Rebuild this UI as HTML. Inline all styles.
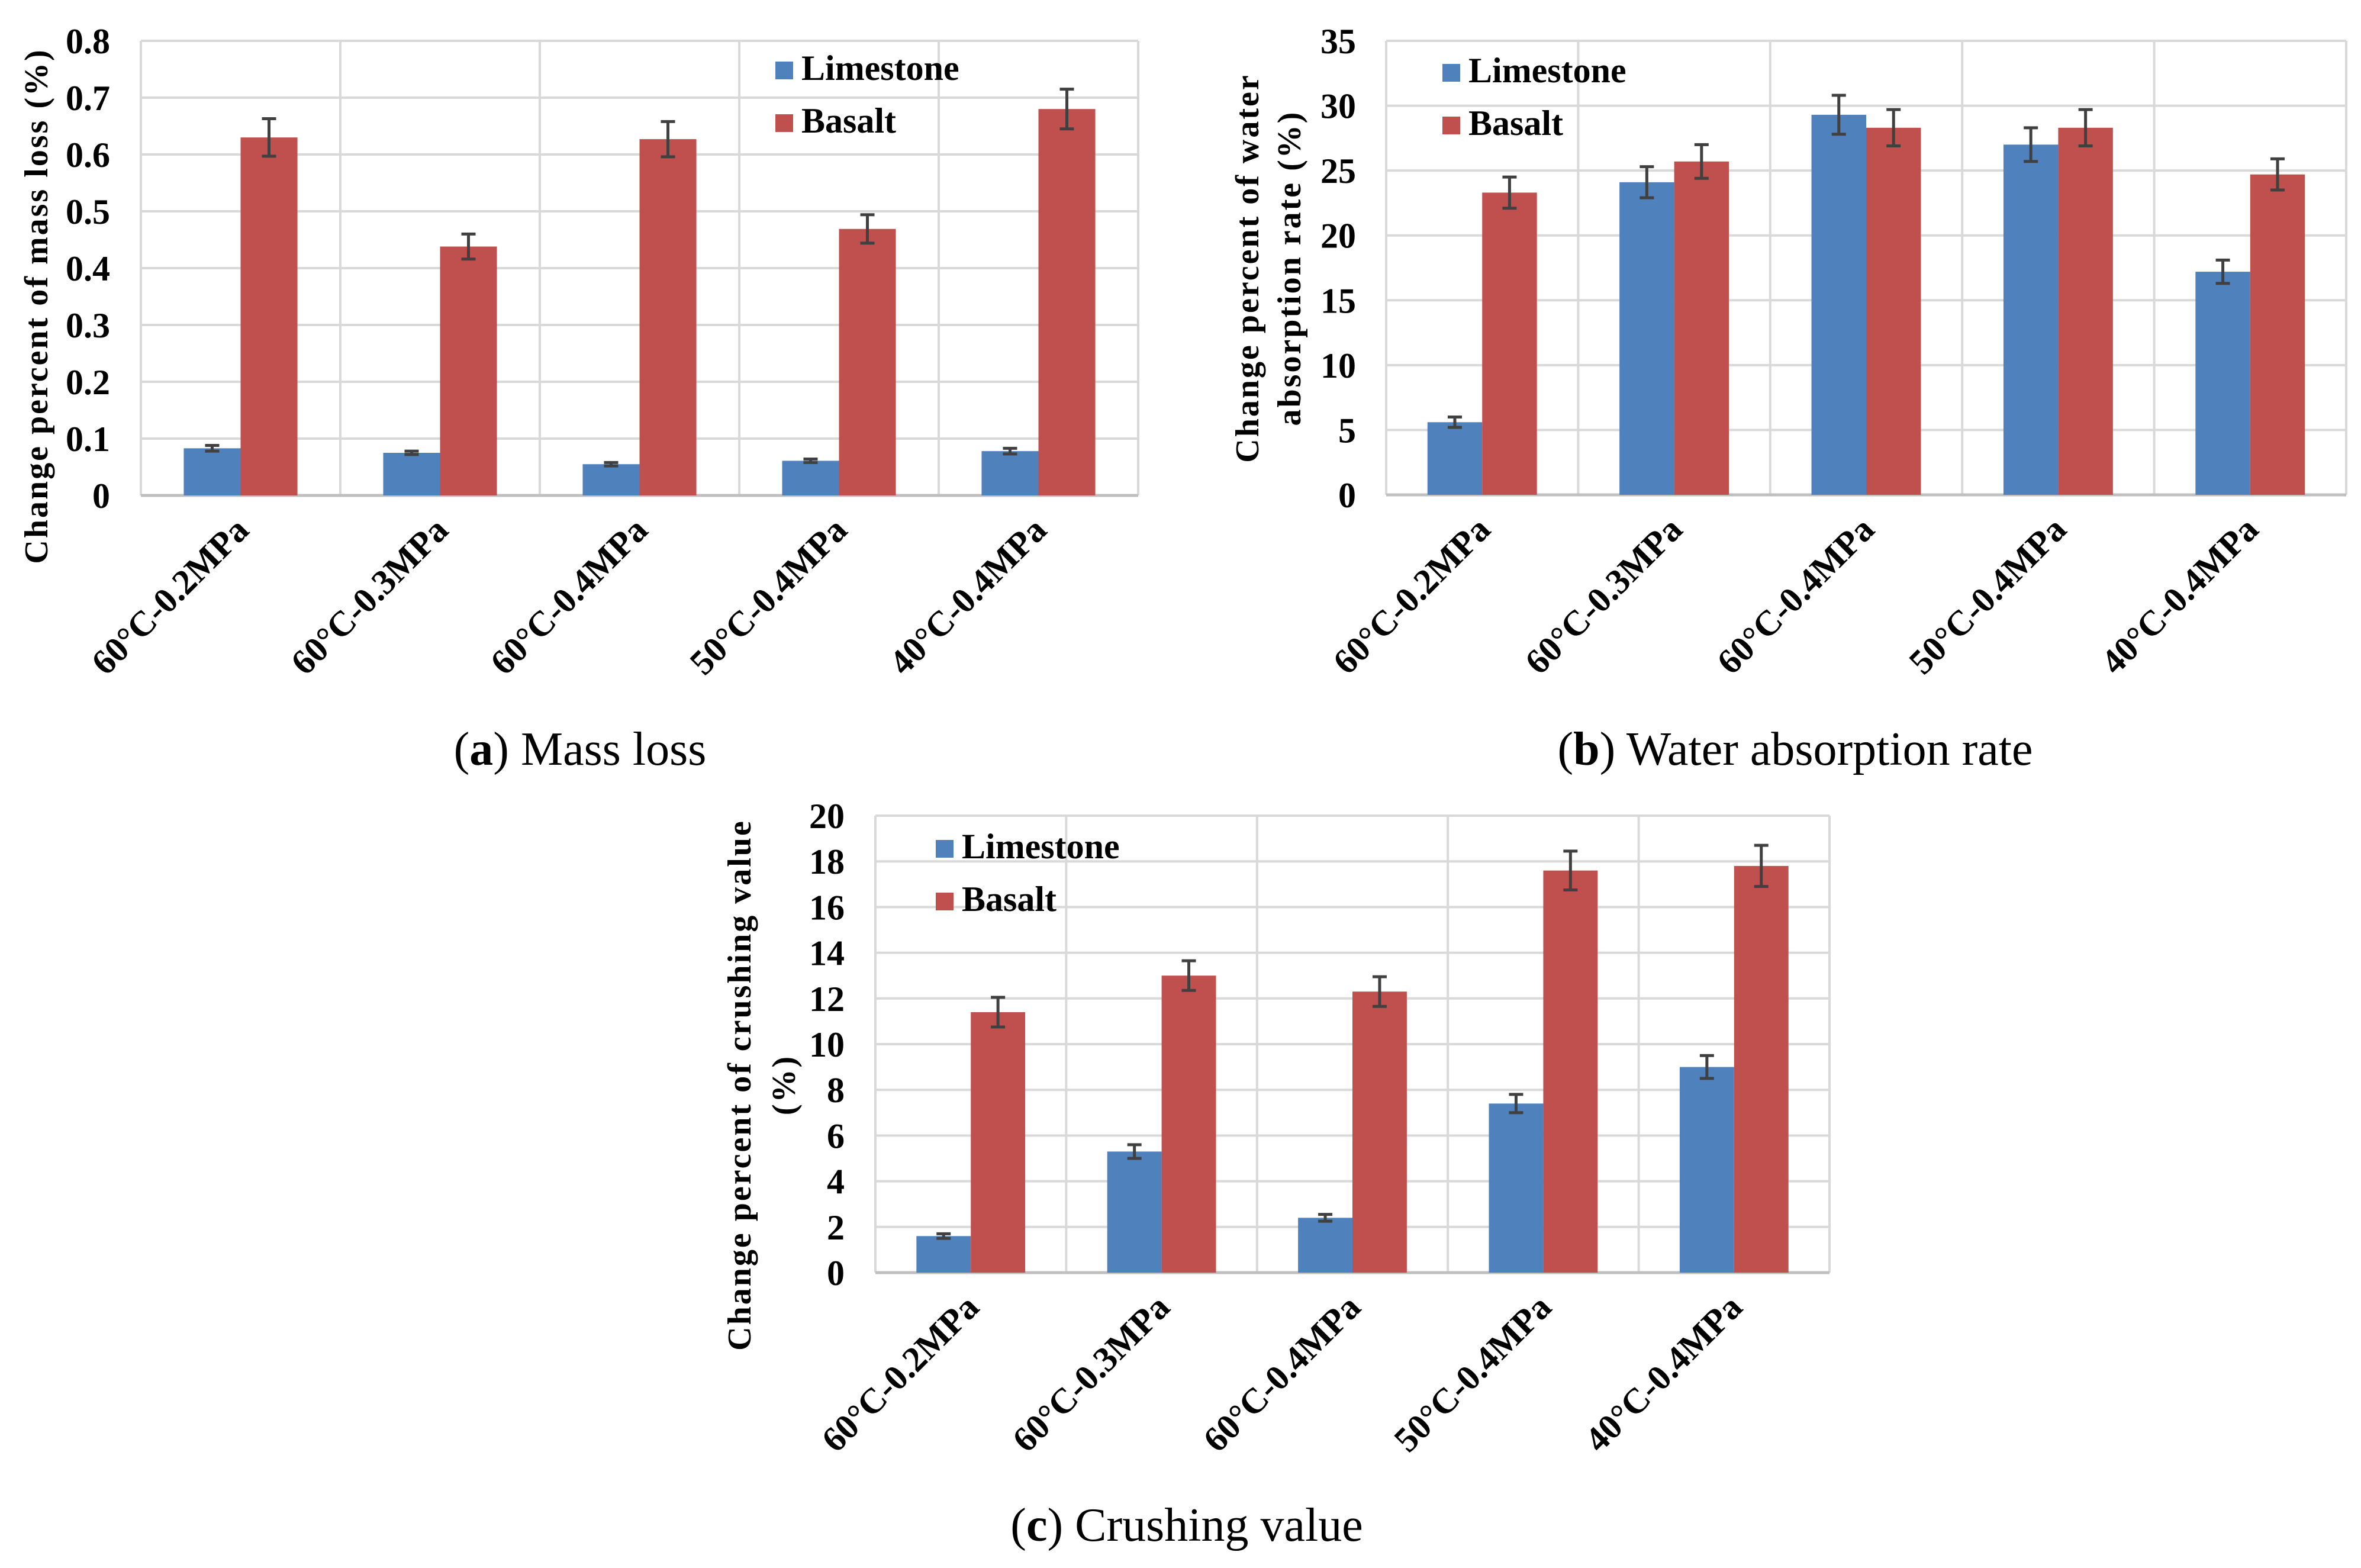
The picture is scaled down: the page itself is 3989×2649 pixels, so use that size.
<!DOCTYPE html>
<html><head><meta charset="utf-8"><style>
html,body{margin:0;padding:0;background:#fff}
svg{display:block}
text{font-family:"Liberation Serif",serif}
</style></head><body>
<svg id="fig" xmlns="http://www.w3.org/2000/svg" width="3989" height="2649" viewBox="0 0 3989 2649">
<rect width="3989" height="2649" fill="#fff"/>
<text x="980" y="1292" font-size="80" text-anchor="middle">(<tspan font-weight="bold">a</tspan>) Mass loss</text>
<text x="3033" y="1292" font-size="80" text-anchor="middle">(<tspan font-weight="bold">b</tspan>) Water absorption rate</text>
<text x="2005" y="2603" font-size="80" text-anchor="middle">(<tspan font-weight="bold">c</tspan>) Crushing value</text>
</svg>
<script>
const categories = ["60°C-0.2MPa","60°C-0.3MPa","60°C-0.4MPa","50°C-0.4MPa","40°C-0.4MPa"];
const seriesNames = ["Limestone","Basalt"];
const massLimestone = [0.083,0.075,0.055,0.061,0.078];
const massBasalt = [0.63,0.438,0.627,0.469,0.68];
const massLimestoneErr = [0.005,0.003,0.003,0.003,0.005];
const massBasaltErr = [0.033,0.022,0.031,0.025,0.035];
const massTicks = ["0","0.1","0.2","0.3","0.4","0.5","0.6","0.7","0.8"];
const waterLimestone = [5.6,24.1,29.3,27.0,17.2];
const waterBasalt = [23.3,25.7,28.3,28.3,24.7];
const waterLimestoneErr = [0.4,1.2,1.5,1.3,0.9];
const waterBasaltErr = [1.2,1.3,1.4,1.4,1.2];
const waterTicks = ["0","5","10","15","20","25","30","35"];
const crushLimestone = [1.6,5.3,2.4,7.4,9.0];
const crushBasalt = [11.4,13.0,12.3,17.6,17.8];
const crushLimestoneErr = [0.1,0.3,0.15,0.4,0.5];
const crushBasaltErr = [0.65,0.65,0.65,0.85,0.9];
const crushTicks = ["0","2","4","6","8","10","12","14","16","18","20"];

const NS="http://www.w3.org/2000/svg";
const svg=document.getElementById('fig');
function mk(tag,attrs,parent){const e=document.createElementNS(NS,tag);for(const k in attrs)e.setAttribute(k,attrs[k]);(parent||svg).appendChild(e);return e;}
const colors=["#4f81bd","#c0504d"];

function drawChart(id,box,ticks,vals,errs,legend,titleLines,titleX,titleY){
  const g=mk('g',{});
  
  
  const maxV=parseFloat(ticks[ticks.length-1]);
  const y=v=>box.y1-(v/maxV)*(box.y1-box.y0);
  const cw=(box.x1-box.x0)/categories.length;
  const xc=i=>box.x0+cw*(i+0.5);
  const bw=cw*0.285;
  ticks.forEach((t,i)=>{
    const v=parseFloat(t), yy=y(v);
    if(i>0){const l=mk('line',{x1:box.x0,x2:box.x1,y1:yy,y2:yy,stroke:'#d9d9d9','stroke-width':4},g);
      
      }
    const tx=mk('text',{x:box.tx,y:yy+21,'font-size':60,'font-weight':'bold','text-anchor':'end',fill:'#000'},g);
    tx.textContent=t;
    
    
  });
  for(let i=0;i<=categories.length;i++){
    const xx=box.x0+cw*i;
    const l=mk('line',{x1:xx,x2:xx,y1:box.y0,y2:box.y1,stroke:'#d9d9d9','stroke-width':4},g);
    
    
  }
  const ax=mk('line',{x1:box.x0,x2:box.x1,y1:box.y1,y2:box.y1,stroke:'#bfbfbf','stroke-width':5},g);
  
  
  categories.forEach((c,i)=>{
    vals.forEach((ser,s)=>{
      const x=xc(i)-bw+s*bw;
      const r=mk('rect',{x:x,y:y(ser[i]),width:bw,height:y(0)-y(ser[i]),fill:colors[s]},g);
      
      
      const ex=x+bw/2, e=errs[s][i];
      const eb=mk('path',{d:`M${ex} ${y(ser[i]+e)}V${y(ser[i]-e)}M${ex-12} ${y(ser[i]+e)}H${ex+12}M${ex-12} ${y(ser[i]-e)}H${ex+12}`,stroke:'#404040','stroke-width':5,fill:'none'},g);
      
      
    });
    const lx=xc(i)+17, ly=box.y1+62;
    const t=mk('text',{x:lx,y:ly,'font-size':60,'font-weight':'bold','text-anchor':'end',transform:`rotate(-45 ${lx} ${ly})`},g);
    t.textContent=c;
    
    
  });
  seriesNames.forEach((n,s)=>{
    const ly=legend.y+s*legend.dy;
    const r=mk('rect',{x:legend.x,y:ly,width:30,height:30,fill:colors[s]},g);
    
    
    const t=mk('text',{x:legend.x+44,y:ly+31,'font-size':60,'font-weight':'bold'},g);
    t.textContent=n;
    
    
  });
  titleLines.forEach((ln,k)=>{
    const tx=titleX[k], ty=titleY;
    const t=mk('text',{x:tx,y:ty,'font-size':56,'font-weight':'bold','text-anchor':'middle','letter-spacing':3,transform:`rotate(-90 ${tx} ${ty})`,'dominant-baseline':'central'},g);
    t.textContent=ln;
    
    
  });
}
drawChart('a',{x0:238,x1:1923,y0:69,y1:837,tx:186},massTicks,[massLimestone,massBasalt],[massLimestoneErr,massBasaltErr],{x:1310,y:104,dy:89},["Change percent of mass loss (%)"],[62],517);
drawChart('b',{x0:2342,x1:3964,y0:69,y1:836,tx:2291},waterTicks,[waterLimestone,waterBasalt],[waterLimestoneErr,waterBasaltErr],{x:2437,y:108,dy:89},["Change percent of water","absorption rate (%)"],[2108,2179],453);
drawChart('c',{x0:1479,x1:3091,y0:1378,y1:2150,tx:1427},crushTicks,[crushLimestone,crushBasalt],[crushLimestoneErr,crushBasaltErr],{x:1581,y:1419,dy:89},["Change percent of crushing value","(%)"],[1250,1325],1833);
</script>
</body></html>
